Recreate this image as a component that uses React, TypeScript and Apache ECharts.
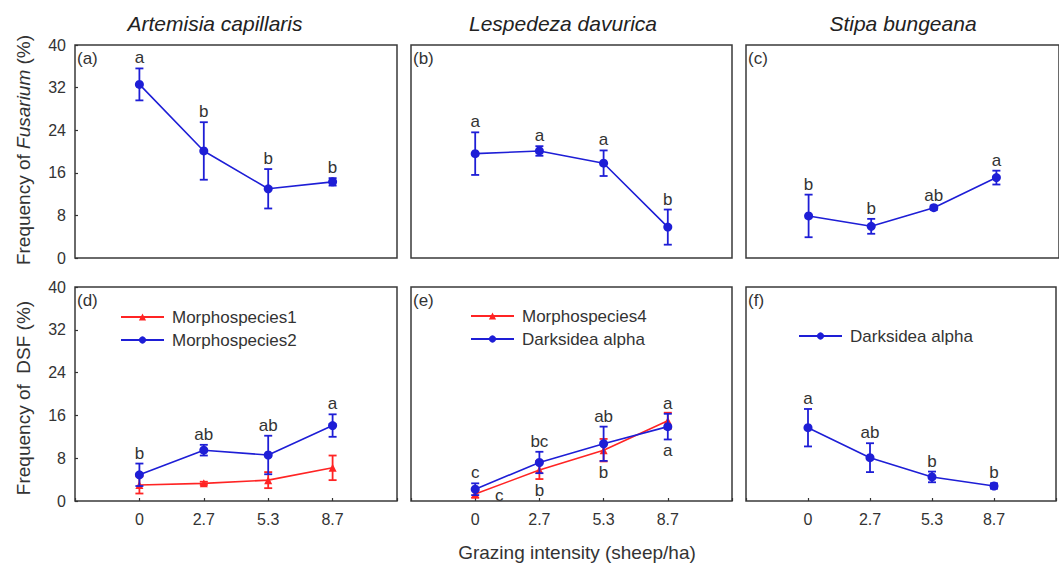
import React, { useEffect, useRef } from "react";
import * as echarts from "echarts";

// ---------- data ----------
const xTickLabels = ["0", "2.7", "5.3", "8.7"];
const xSlots = [1, 2, 3, 4];
const yTicks = [0, 8, 16, 24, 32, 40];

const fusAMean = [32.6, 20.1, 13.0, 14.3];
const fusAErr = [3.0, 5.4, 3.7, 0.7];
const fusALetters = ["a", "b", "b", "b"];

const fusBMean = [19.6, 20.1, 17.8, 5.8];
const fusBErr = [4.0, 0.9, 2.4, 3.3];
const fusBLetters = ["a", "a", "a", "b"];

const fusCMean = [7.9, 5.95, 9.45, 15.1];
const fusCErr = [4.0, 1.4, 0.4, 1.3];
const fusCLetters = ["b", "b", "ab", "a"];

const dM1Mean = [3.0, 3.3, 3.9, 6.2];
const dM1Err = [1.6, 0.3, 1.5, 2.3];
const dM2Mean = [4.9, 9.5, 8.6, 14.1];
const dM2Err = [2.1, 1.0, 3.6, 2.1];
const dM2Letters = ["b", "ab", "ab", "a"];

const eM4Mean = [1.3, 5.8, 9.5, 15.0];
const eM4Err = [0.7, 1.7, 2.1, 1.5];
const eM4Letters = ["c", "b", "b", "a"];
const eDaMean = [2.2, 7.2, 10.7, 13.9];
const eDaErr = [1.1, 2.0, 3.2, 2.4];
const eDaLetters = ["c", "bc", "ab", "a"];

const fDaMean = [13.7, 8.1, 4.5, 2.8];
const fDaErr = [3.5, 2.7, 1.0, 0.5];
const fDaLetters = ["a", "ab", "b", "b"];

const plantTitles = ["Artemisia capillaris", "Lespedeza davurica", "Stipa bungeana"];
const panelTags = ["(a)", "(b)", "(c)", "(d)", "(e)", "(f)"];

// ---------- styles ----------
const FONT = "'Liberation Sans', Arial, sans-serif";
const BLUE = "#1e1ed6";
const RED = "#ff2424";
const TEXT = "#333333";

const colLeft = [75, 411, 746];
const colWidth = [322, 321, 322];
const rowTop = [45, 287];
const rowHeight = [213, 214];

function makeOption() {
  const grids: any[] = [];
  const xAxes: any[] = [];
  const yAxes: any[] = [];
  for (let r = 0; r < 2; r++) {
    for (let c = 0; c < 3; c++) {
      const i = r * 3 + c;
      grids.push({
        left: colLeft[c],
        top: rowTop[r],
        width: colWidth[c],
        height: rowHeight[r],
        show: true,
        borderColor: "#3a3a3a",
        borderWidth: 1.5,
        backgroundColor: "transparent",
      });
      xAxes.push({
        type: "value",
        gridIndex: i,
        min: 0,
        max: 5,
        interval: 1,
        axisLine: { show: false },
        splitLine: { show: false },
        axisTick: {
          show: r === 1,
          inside: true,
          length: 3,
          lineStyle: { color: "#333", width: 1.2 },
        },
        axisLabel: {
          show: r === 1,
          margin: 10,
          fontSize: 16,
          fontFamily: FONT,
          color: TEXT,
          formatter: (v: number) => {
            const k = xSlots.indexOf(v);
            return k >= 0 ? xTickLabels[k] : "";
          },
        },
      });
      yAxes.push({
        type: "value",
        gridIndex: i,
        min: yTicks[0],
        max: yTicks[yTicks.length - 1],
        interval: 8,
        axisLine: { show: false },
        splitLine: { show: false },
        axisTick: {
          show: c === 0,
          inside: true,
          length: 3,
          lineStyle: { color: "#333", width: 1.2 },
        },
        axisLabel: {
          show: c === 0,
          margin: 9,
          fontSize: 16,
          fontFamily: FONT,
          color: TEXT,
        },
      });
    }
  }

  const series: any[] = [];

  const addLine = (
    idx: number,
    name: string,
    mean: number[],
    color: string,
    symbol: string,
    z: number
  ) => {
    series.push({
      type: "line",
      name,
      xAxisIndex: idx,
      yAxisIndex: idx,
      data: xSlots.map((x, k) => [x, mean[k]]),
      symbol,
      symbolSize: symbol === "triangle" ? 8 : 9,
      itemStyle: { color },
      lineStyle: { color, width: 1.6 },
      z,
    });
  };

  const addErr = (idx: number, mean: number[], err: number[], color: string, z: number) => {
    series.push({
      type: "custom",
      xAxisIndex: idx,
      yAxisIndex: idx,
      silent: true,
      z,
      encode: { x: 0, y: 1 },
      data: xSlots.map((x, k) => [x, mean[k], err[k]]),
      renderItem: (params: any, api: any) => {
        const x = api.value(0);
        const m = api.value(1);
        const e = api.value(2);
        const t = api.coord([x, m + e]);
        const b = api.coord([x, m - e]);
        const w = 4;
        const st = { stroke: color, lineWidth: 1.8 };
        return {
          type: "group",
          children: [
            { type: "line", shape: { x1: t[0], y1: t[1], x2: b[0], y2: b[1] }, style: st },
            { type: "line", shape: { x1: t[0] - w, y1: t[1], x2: t[0] + w, y2: t[1] }, style: st },
            { type: "line", shape: { x1: b[0] - w, y1: b[1], x2: b[0] + w, y2: b[1] }, style: st },
          ],
        };
      },
    });
  };

  const addLetters = (
    idx: number,
    anchors: number[],
    letters: string[],
    below: boolean,
    shifts?: number[][]
  ) => {
    series.push({
      type: "custom",
      xAxisIndex: idx,
      yAxisIndex: idx,
      silent: true,
      z: 10,
      encode: { x: 0, y: 1 },
      data: xSlots.map((x, k) => [x, anchors[k]]),
      renderItem: (params: any, api: any) => {
        const p = api.coord([api.value(0), api.value(1)]);
        const s = shifts ? shifts[params.dataIndex] : [0, 0];
        return {
          type: "text",
          x: p[0] + s[0],
          y: p[1] + (below ? 3 : -2) + s[1],
          style: {
            text: letters[params.dataIndex],
            fontSize: 17,
            fontFamily: FONT,
            fill: TEXT,
            align: "center",
            verticalAlign: below ? "top" : "bottom",
          },
        };
      },
    });
  };

  const upper = (m: number[], e: number[]) => m.map((v, k) => v + e[k]);
  const lower = (m: number[], e: number[]) => m.map((v, k) => v - e[k]);

  // (a)
  addErr(0, fusAMean, fusAErr, BLUE, 3);
  addLine(0, "Fusarium A", fusAMean, BLUE, "circle", 4);
  addLetters(0, upper(fusAMean, fusAErr), fusALetters, false);
  // (b)
  addErr(1, fusBMean, fusBErr, BLUE, 3);
  addLine(1, "Fusarium B", fusBMean, BLUE, "circle", 4);
  addLetters(1, upper(fusBMean, fusBErr), fusBLetters, false);
  // (c)
  addErr(2, fusCMean, fusCErr, BLUE, 3);
  addLine(2, "Fusarium C", fusCMean, BLUE, "circle", 4);
  addLetters(2, upper(fusCMean, fusCErr), fusCLetters, false);
  // (d)
  addErr(3, dM1Mean, dM1Err, RED, 3);
  addLine(3, "Morphospecies1", dM1Mean, RED, "triangle", 4);
  addErr(3, dM2Mean, dM2Err, BLUE, 5);
  addLine(3, "Morphospecies2", dM2Mean, BLUE, "circle", 6);
  addLetters(3, upper(dM2Mean, dM2Err), dM2Letters, false);
  // (e)
  addErr(4, eM4Mean, eM4Err, RED, 3);
  addLine(4, "Morphospecies4", eM4Mean, RED, "triangle", 4);
  addErr(4, eDaMean, eDaErr, BLUE, 5);
  addLine(4, "Darksidea alpha", eDaMean, BLUE, "circle", 6);
  addLetters(4, upper(eDaMean, eDaErr), eDaLetters, false);
  const eLow = lower(eM4Mean, eM4Err).map((v, k) => Math.min(v, eDaMean[k] - eDaErr[k]));
  addLetters(4, eLow, eM4Letters, true, [[24, -14], [0, 0], [0, 0], [0, 0]]);
  // (f)
  addErr(5, fDaMean, fDaErr, BLUE, 3);
  addLine(5, "Darksidea alpha", fDaMean, BLUE, "circle", 4);
  addLetters(5, upper(fDaMean, fDaErr), fDaLetters, false);

  const legendBase = {
    orient: "vertical",
    itemWidth: 43,
    itemHeight: 9,
    itemGap: 5,
    selectedMode: false,
    textStyle: { fontSize: 17, fontFamily: FONT, color: TEXT, padding: [0, 0, 0, 3], lineHeight: 18 },
  };

  const graphics: any[] = [];
  const titleCenters = [215, 563, 903];
  plantTitles.forEach((t, k) => {
    graphics.push({
      type: "text",
      x: titleCenters[k],
      y: 23,
      style: {
        text: t,
        font: `italic 21px ${FONT}`,
        fill: "#222",
        align: "center",
        verticalAlign: "middle",
      },
    });
  });
  panelTags.forEach((t, i) => {
    const r = Math.floor(i / 3);
    const c = i % 3;
    graphics.push({
      type: "text",
      x: colLeft[c] + 2,
      y: rowTop[r] + 13,
      style: {
        text: t,
        font: `17px ${FONT}`,
        fill: TEXT,
        align: "left",
        verticalAlign: "middle",
      },
    });
  });
  graphics.push({
    type: "text",
    x: 23,
    y: 150,
    rotation: Math.PI / 2,
    style: {
      text: "{n|Frequency of }{i|Fusarium}{n| (%)}",
      fill: TEXT,
      align: "center",
      verticalAlign: "middle",
      rich: {
        n: { fontSize: 19, fontFamily: FONT, fill: TEXT, color: TEXT },
        i: { fontSize: 19, fontFamily: FONT, fontStyle: "italic", fill: TEXT, color: TEXT },
      },
    },
  });
  graphics.push({
    type: "text",
    x: 23,
    y: 398,
    rotation: Math.PI / 2,
    style: {
      text: "Frequency of  DSF (%)",
      font: `19px ${FONT}`,
      fill: TEXT,
      align: "center",
      verticalAlign: "middle",
    },
  });
  graphics.push({
    type: "text",
    x: 577,
    y: 552,
    style: {
      text: "Grazing intensity (sheep/ha)",
      font: `19px ${FONT}`,
      fill: TEXT,
      align: "center",
      verticalAlign: "middle",
    },
  });

  return {
    animation: false,
    backgroundColor: "#ffffff",
    grid: grids,
    xAxis: xAxes,
    yAxis: yAxes,
    series,
    legend: [
      { ...legendBase, data: ["Morphospecies1", "Morphospecies2"], left: 115, top: 303 },
      { ...legendBase, data: ["Morphospecies4", "Darksidea alpha"], left: 465, top: 302 },
      { ...legendBase, data: ["Darksidea alpha"], left: 793, top: 322 },
    ],
    graphic: graphics,
  };
}

export default function App() {
  const ref = useRef<HTMLDivElement>(null);
  useEffect(() => {
    if (!ref.current) return;
    const chart = echarts.init(ref.current, undefined, { renderer: "svg" });
    chart.setOption(makeOption() as any);
    return () => chart.dispose();
  }, []);
  return (
    <div
      ref={ref}
      style={{ position: "fixed", left: 0, top: 0, width: 1059, height: 565, background: "#fff" }}
    />
  );
}
